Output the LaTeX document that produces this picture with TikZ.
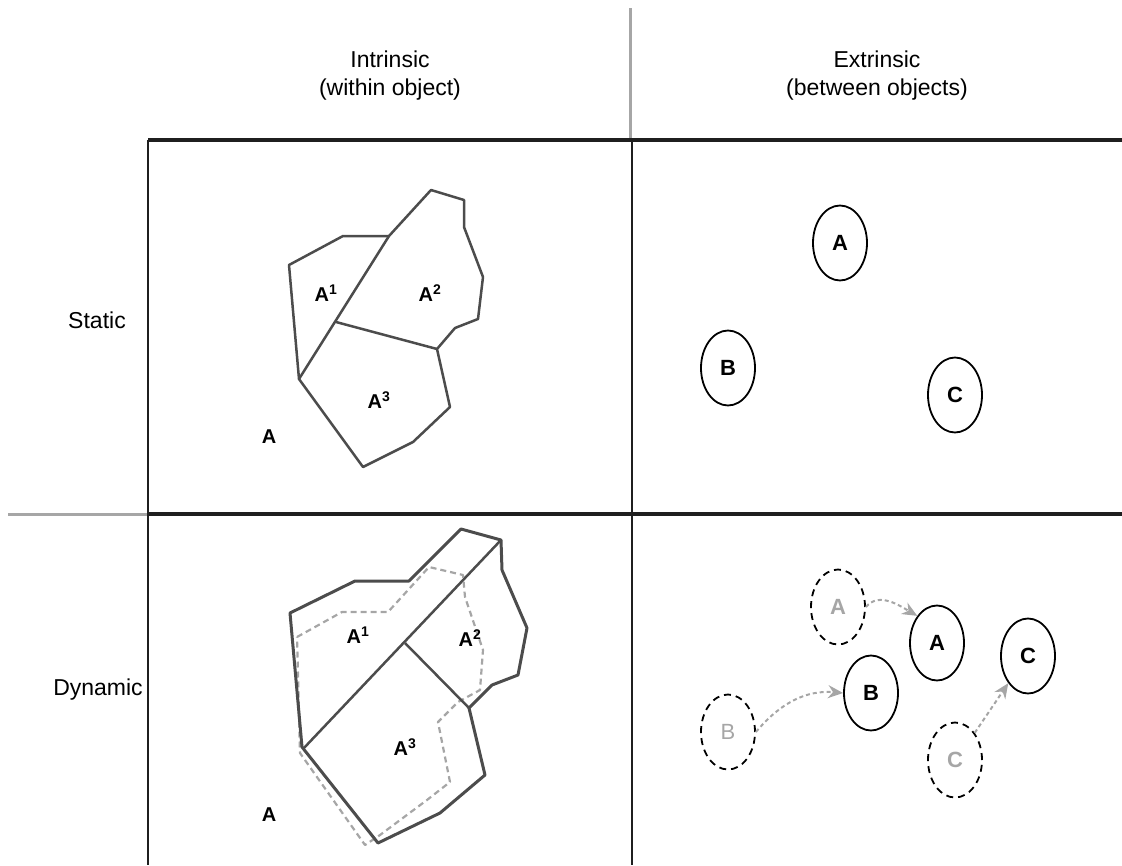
\documentclass[tikz,border=0pt]{standalone}
\usepackage{fontspec}
\setmainfont{Liberation Sans}
\usetikzlibrary{shapes.geometric,arrows.meta}

\begin{document}
\begin{tikzpicture}[x=1pt, y=-1pt,
    every node/.style={font=\fontsize{23}{28}\selectfont},
    heading/.style={align=center},
    grid/.style={line width=3.5pt, color=black!88},
    divider/.style={line width=2.5pt, color=black!88},
    guide/.style={line width=3pt, color=black!35},
    region/.style={line width=2.5pt, color=black!70, line join=round},
    oldregion/.style={line width=2.2pt, color=black!35, dash pattern=on 6pt off 4pt, line join=round},
    part/.style={font=\bfseries\fontsize{20}{22}\selectfont},
    obj/.style={ellipse, draw, line width=1.8pt, minimum width=54pt, minimum height=75pt,
        inner sep=0pt, font=\bfseries\fontsize{22}{24}\selectfont},
    ghost/.style={obj, dash pattern=on 7pt off 5pt, text=black!35},
    move/.style={-{Stealth[length=15pt,width=13pt]}, color=black!35, line width=2pt,
        dash pattern=on 4pt off 3pt}
]
\useasboundingbox (0,0) rectangle (1122,865);

% Headings
\node[heading] (intr) at (390,76) {Intrinsic\\(within object)};
\node[heading] (extr) at (877,76) {Extrinsic\\(between objects)};
\node (stat) at (97,320) {Static};
\node (dyn) at (98,690) {Dynamic};

% Grid
\draw[guide] (630,8) -- (630,140);
\draw[guide] (8,514) -- (148,514);
\draw[grid] (148,140) -- (1122,140);
\draw[grid] (148,514) -- (1122,514);
\draw[divider] (148,140) -- (148,865);
\draw[divider] (632,140) -- (632,865);

% Static, intrinsic
\draw[region] (289,265) -- (343,236) -- (389,236) -- (431,190) -- (464,200) -- (464,227)
    -- (483,277) -- (478,319) -- (455,328) -- (437,349) -- (450,407) -- (413,442)
    -- (363,467) -- (299,379) -- cycle;
\draw[region] (389,236) -- (299,379);
\draw[region] (336,322) -- (437,349);
\node[part] (s1) at (326,293) {A\textsuperscript{1}};
\node[part] (s2) at (430,293) {A\textsuperscript{2}};
\node[part] (s3) at (379,400) {A\textsuperscript{3}};
\node[part] (sa) at (269,437) {A};

% Dynamic, intrinsic
\draw[oldregion] (297,637) -- (342,612) -- (388,612) -- (429,567) -- (463,575) -- (465,597)
    -- (483,650) -- (480,690) -- (458,702) -- (438,722) -- (450,782) -- (427,800)
    -- (380,835) -- (365,845) -- (300,753) -- cycle;
\draw[region, line width=3pt] (290,613) -- (355,581) -- (409,581) -- (461,529) -- (501,540)
    -- (502,570) -- (527,628) -- (518,675) -- (492,685) -- (469,708) -- (485,775)
    -- (440,813) -- (378,843) -- (302,747) -- cycle;
\draw[region] (501,540) -- (303,749);
\draw[region] (405,643) -- (469,708);
\node[part] (d1) at (358,635) {A\textsuperscript{1}};
\node[part] (d2) at (470,638) {A\textsuperscript{2}};
\node[part] (d3) at (405,747) {A\textsuperscript{3}};
\node[part] (da) at (269,815) {A};

% Static, extrinsic
\node[obj] (a) at (840,243) {A};
\node[obj] (b) at (728,368) {B};
\node[obj] (c) at (955,395) {C};

% Dynamic, extrinsic
\node[ghost] (a0) at (838,607) {A};
\node[ghost, font=\fontsize{22}{24}\selectfont] (b0) at (728,732) {B};
\node[ghost] (c0) at (955,760) {C};
\node[obj] (a1) at (937,643) {A};
\node[obj] (b1) at (871,693) {B};
\node[obj] (c1) at (1028,656) {C};

\draw[move] (a0.east) to[out=50, in=150] (a1.north west);
\draw[move] (b0.east) to[out=50, in=175] (b1.west);
\draw[move] (c0.north east) -- (c1.south west);

\end{tikzpicture}
\end{document}
